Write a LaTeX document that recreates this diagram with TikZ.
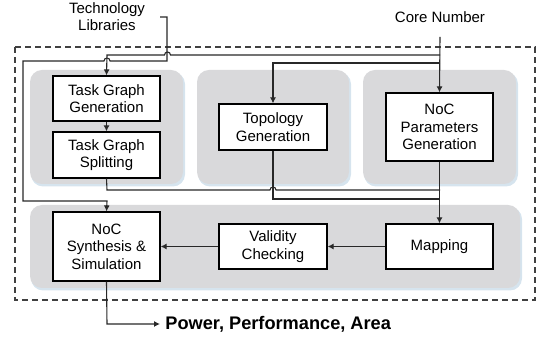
\documentclass[tikz,border=0pt]{standalone}
\usepackage{fontspec}
\setmainfont{Liberation Sans}
\usetikzlibrary{arrows.meta}
\definecolor{panelgray}{RGB}{217,217,219}
\definecolor{shadowblue}{RGB}{214,228,238}
\definecolor{linegray}{RGB}{40,40,40}
\begin{document}
\begin{tikzpicture}[x=0.5pt,y=-0.5pt,
  panel/.style={fill=panelgray,draw=none,rounded corners=6pt},
  pshadow/.style={fill=shadowblue,draw=none,rounded corners=6pt},
  stepbox/.style={draw=black,fill=white,line width=0.6pt,align=center,
    font=\fontsize{7.5}{8.75}\selectfont,inner sep=0pt},
  lbl/.style={align=center,font=\fontsize{7.5}{8.75}\selectfont,inner sep=0pt},
  conn/.style={draw=linegray,line width=0.55pt},
  arr/.style={conn,-{Latex[length=3pt,width=3pt]}}
]
\useasboundingbox (0,0) rectangle (536,341);
% outer dashed frame
\draw[draw=black!75,line width=0.55pt,dash pattern=on 3.2pt off 1.8pt] (15,47) rectangle (535,300);
% panels with soft shadow
\foreach \xa/\ya/\xb/\yb in {30/70/183/184,197/70/349/184,363/70/516/184,30/205/520/288}{
  \fill[pshadow] (\xa+1,\ya+2) rectangle (\xb+2,\yb+2.5);
  \fill[panel] (\xa,\ya) rectangle (\xb,\yb);
}
% boxes
\node[stepbox,minimum width=53.5pt,minimum height=22.5pt] (tgg) at (106.5,98.5) {Task Graph\\Generation};
\node[stepbox,minimum width=53.5pt,minimum height=23pt] (tgs) at (106.5,155) {Task Graph\\Splitting};
\node[stepbox,minimum width=54pt,minimum height=23pt] (topo) at (273,127) {Topology\\Generation};
\node[stepbox,minimum width=53.5pt,minimum height=34pt] (nocp) at (439.5,127) {NoC\\Parameters\\Generation};
\node[stepbox,minimum width=53.5pt,minimum height=34.5pt] (syn) at (106.5,246.5) {NoC\\Synthesis \&\\Simulation};
\node[stepbox,minimum width=54pt,minimum height=22.5pt] (val) at (273,246.5) {Validity\\Checking};
\node[stepbox,minimum width=53.5pt,minimum height=22.5pt] (map) at (439.5,246.5) {Mapping};
% labels
\node[lbl] (tech) at (107,16.5) {Technology\\Libraries};
\node[lbl] (core) at (440,17) {Core Number};
\node[anchor=west,inner sep=0pt,font=\fontsize{9.1}{10}\selectfont\bfseries] (ppa) at (165,324) {Power, Performance, Area};
% helper coordinates
\coordinate (coreS) at (440,37);
\coordinate (techS) at (160,17);
\coordinate (ppaT) at (160,324);
% Core number branches
\draw[arr] (coreS) -- (nocp.north);
\draw[arr] (440,55) -- (170.5,55) arc[start angle=0,end angle=180,radius=1.5pt] -- (107,55) -- (tgg.north);
\draw[arr] (440,63) -- (273,63) -- (topo.north);
% Technology libraries
\draw[arr] (techS) -- (167,17) -- (167,61) -- (110,61) arc[start angle=0,end angle=180,radius=1.5pt] -- (23,61) -- (23,201) -- (107,201) -- (syn.north);
% task graph chain
\draw[arr] (tgg.south) -- (tgs.north);
% bottom joins
\draw[conn] (tgs.south) -- (107,190) -- (270,190) arc[start angle=180,end angle=0,radius=1.5pt] -- (440,190);
\draw[conn] (topo.south) -- (273,199) -- (440,199);
\draw[arr] (nocp.south) -- (map.north);
% bottom row
\draw[arr] (map.west) -- (val.east);
\draw[arr] (val.west) -- (syn.east);
\draw[arr] (syn.south) -- (107,324) -- (ppaT);
\end{tikzpicture}
\end{document}
